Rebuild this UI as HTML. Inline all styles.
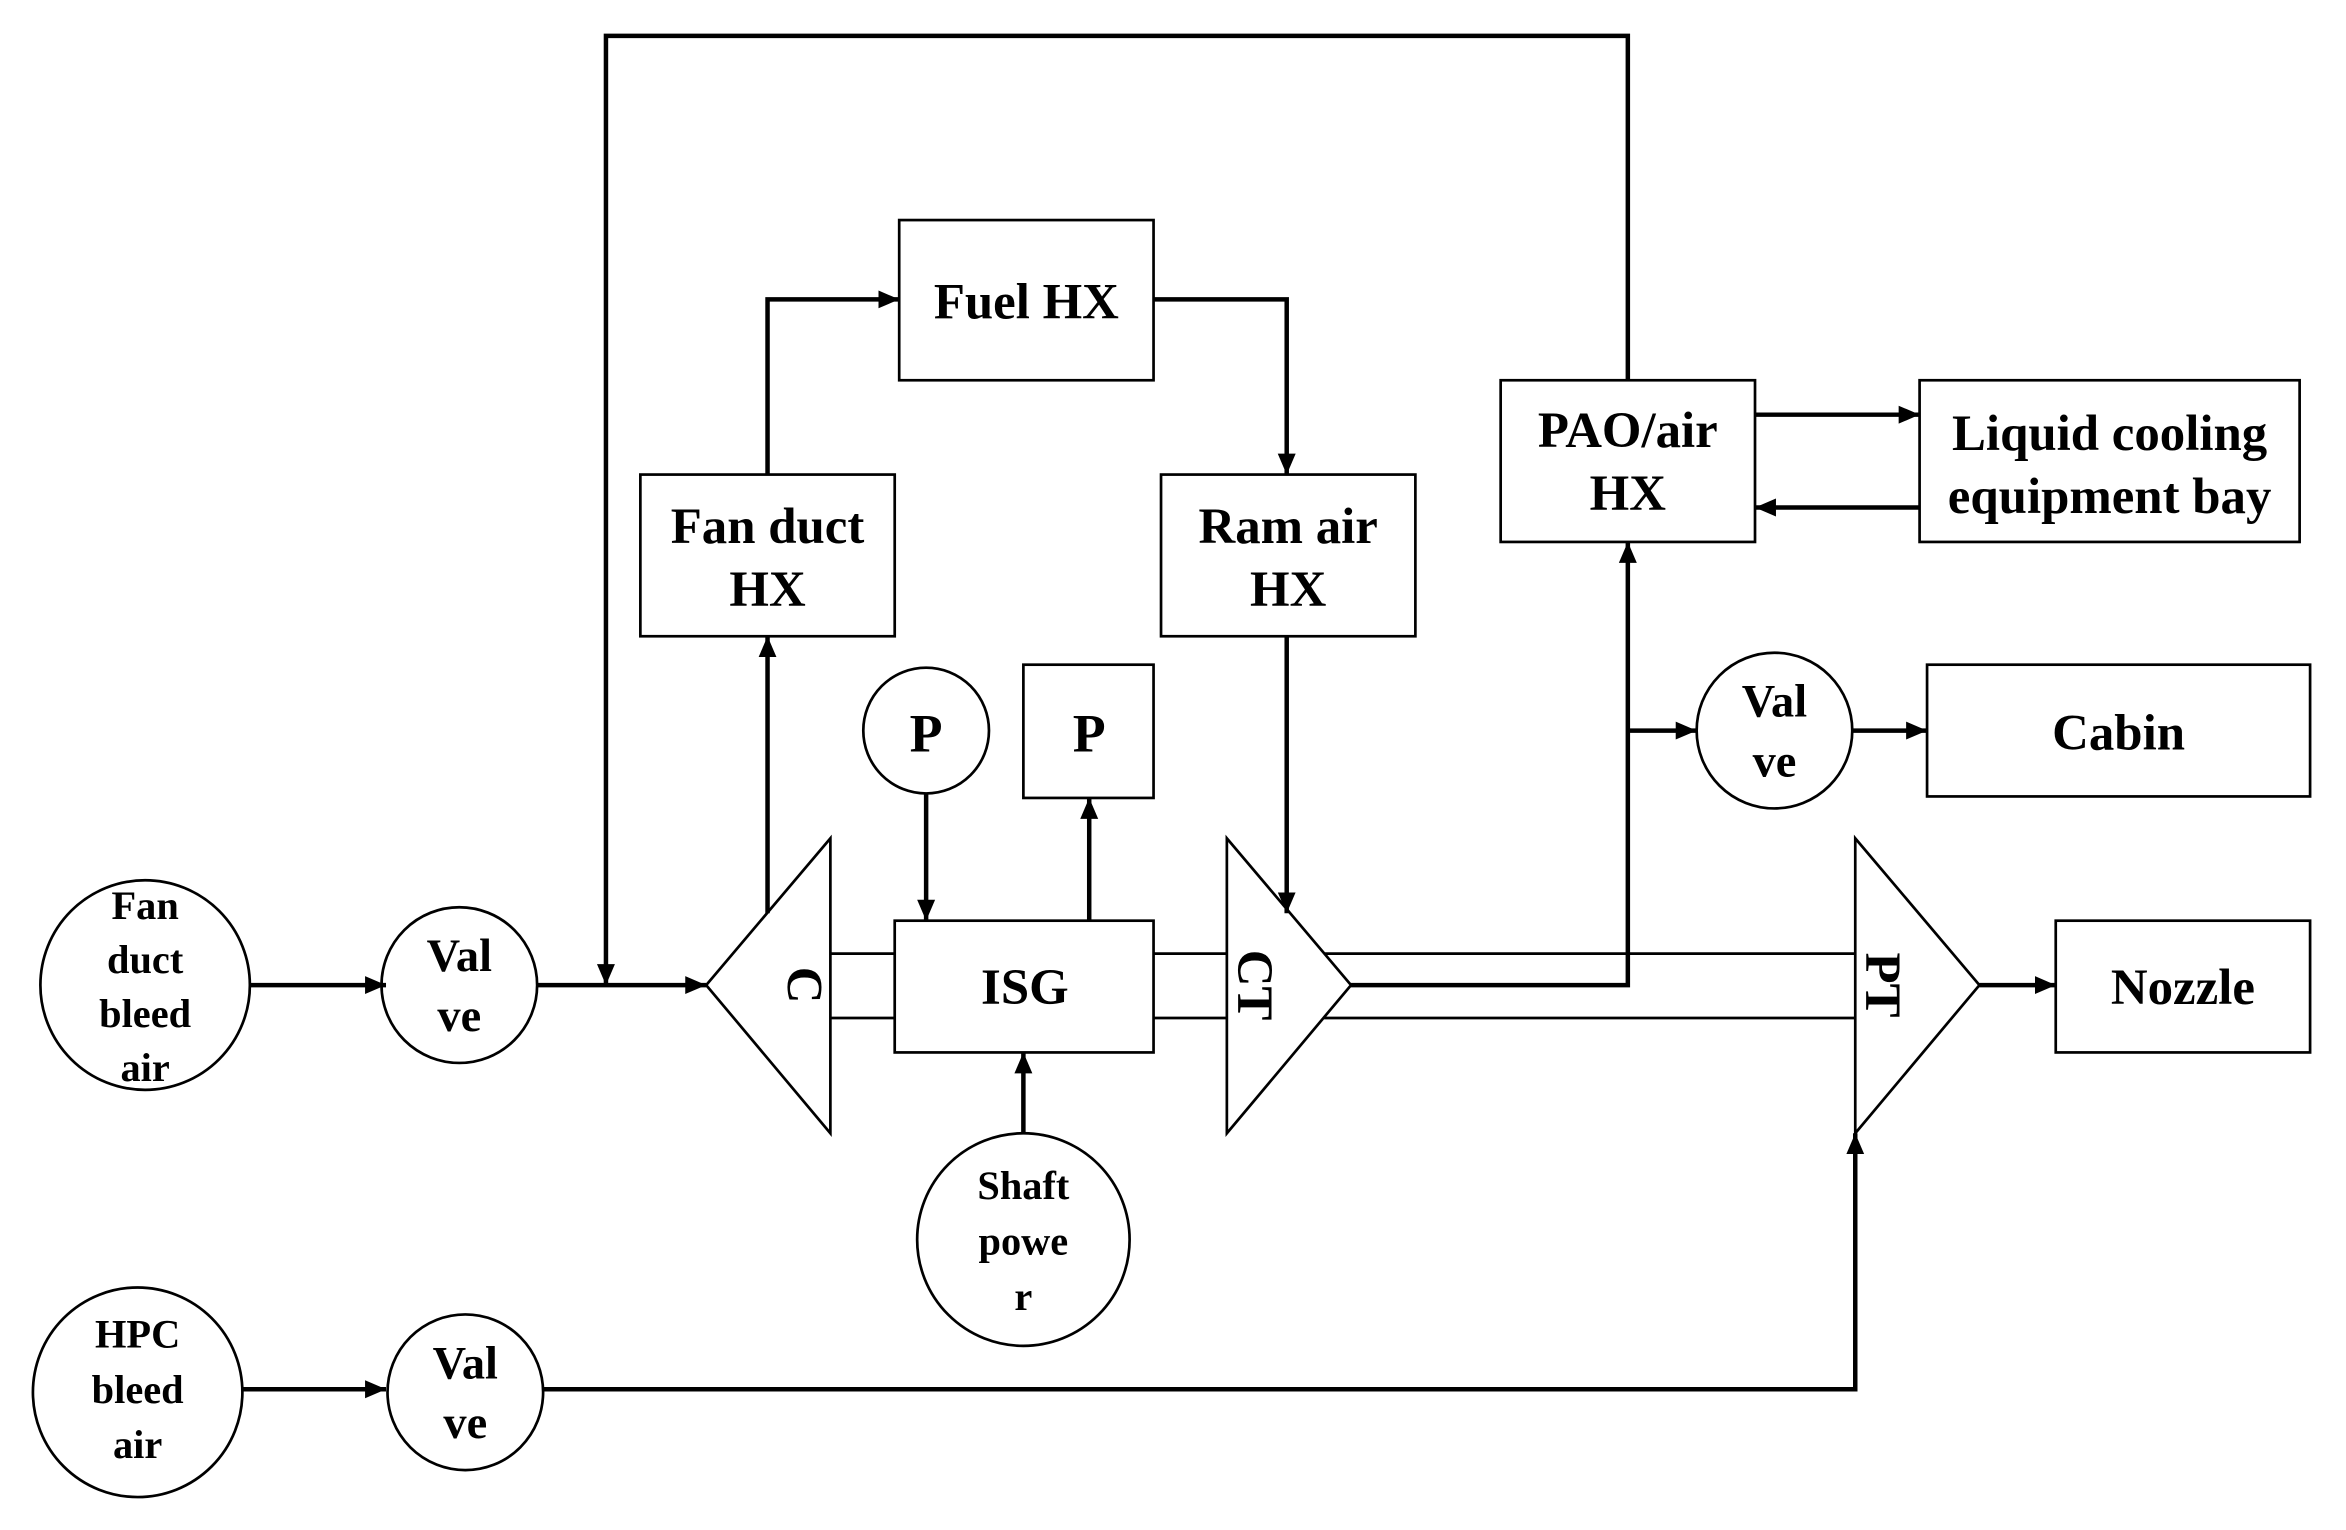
<!DOCTYPE html>
<html><head><meta charset="utf-8"><style>
html,body{margin:0;padding:0;background:#fff;}
svg{display:block;}
text{font-family:"Liberation Serif",serif;font-weight:bold;fill:#000;text-anchor:middle;dominant-baseline:central;}
</style></head><body>
<svg width="2346" height="1530" viewBox="0 0 1568 1022" preserveAspectRatio="none" xmlns="http://www.w3.org/2000/svg">
<defs>
<marker id="a" markerUnits="userSpaceOnUse" markerWidth="16" markerHeight="14" refX="14" refY="7" orient="auto">
<path d="M0,1 L14,7 L0,13 Z" fill="#000"/>
</marker>
</defs>
<g fill="none" stroke="#000" stroke-width="1.8">
<rect x="601" y="147" width="170" height="107"/>
<rect x="428" y="317" width="170" height="108"/>
<rect x="776" y="317" width="170" height="108"/>
<rect x="684" y="444" width="87" height="89"/>
<rect x="598" y="615" width="173" height="88"/>
<rect x="1003" y="254" width="170" height="108"/>
<rect x="1283" y="254" width="254" height="108"/>
<rect x="1288" y="444" width="256" height="88"/>
<rect x="1374" y="615" width="170" height="88"/>
<circle cx="619" cy="488" r="42"/>
<circle cx="1186" cy="488" r="52"/>
<circle cx="97" cy="658" r="70"/>
<circle cx="307" cy="658" r="52"/>
<circle cx="92" cy="930" r="70"/>
<circle cx="311" cy="930" r="52"/>
<circle cx="684" cy="828" r="71"/>
<polygon points="472,658 555,560 555,757"/>
<polygon points="820,560 820,757 903,658"/>
<polygon points="1240,560 1240,757 1323,658"/>
<line x1="555" y1="637" x2="598" y2="637"/>
<line x1="555" y1="680" x2="598" y2="680"/>
<line x1="771" y1="637" x2="820" y2="637"/>
<line x1="771" y1="680" x2="820" y2="680"/>
<line x1="885" y1="637" x2="1240" y2="637"/>
<line x1="885" y1="680" x2="1240" y2="680"/>
</g>
<g fill="none" stroke="#000" stroke-width="3">
<polyline points="1088,254 1088,24 405,24 405,658" marker-end="url(#a)"/>
<polyline points="513,317 513,200 601,200" marker-end="url(#a)"/>
<polyline points="771,200 860,200 860,317" marker-end="url(#a)"/>
<line x1="860" y1="425" x2="860" y2="610" marker-end="url(#a)"/>
<line x1="513" y1="610" x2="513" y2="425" marker-end="url(#a)"/>
<line x1="619" y1="530" x2="619" y2="615" marker-end="url(#a)"/>
<line x1="728" y1="615" x2="728" y2="533" marker-end="url(#a)"/>
<line x1="684" y1="757" x2="684" y2="703" marker-end="url(#a)"/>
<polyline points="903,658 1088,658 1088,362" marker-end="url(#a)"/>
<line x1="1088" y1="488" x2="1134" y2="488" marker-end="url(#a)"/>
<line x1="1238" y1="488" x2="1288" y2="488" marker-end="url(#a)"/>
<line x1="1173" y1="277" x2="1283" y2="277" marker-end="url(#a)"/>
<line x1="1283" y1="339" x2="1173" y2="339" marker-end="url(#a)"/>
<line x1="1323" y1="658" x2="1374" y2="658" marker-end="url(#a)"/>
<line x1="167" y1="658" x2="258" y2="658" marker-end="url(#a)"/>
<line x1="359" y1="658" x2="472" y2="658" marker-end="url(#a)"/>
<line x1="162" y1="928" x2="258" y2="928" marker-end="url(#a)"/>
<polyline points="363,928 1240,928 1240,757" marker-end="url(#a)"/>
</g>
<g font-size="34">
<text x="686" y="202">Fuel HX</text>
<text x="513" y="352">Fan duct</text><text x="513" y="394">HX</text>
<text x="861" y="352">Ram air</text><text x="861" y="394">HX</text>
<text x="1088" y="288">PAO/air</text><text x="1088" y="330">HX</text>
<text x="1410" y="290">Liquid cooling</text><text x="1410" y="332">equipment bay</text>
<text x="1416" y="490">Cabin</text>
<text x="1459" y="660">Nozzle</text>
<text x="685" y="660">ISG</text>
<text x="619" y="490" font-size="36">P</text>
<text x="728" y="490" font-size="36">P</text>
<text x="1186" y="469" font-size="31">Val</text><text x="1186" y="509" font-size="31">ve</text>
<text x="307" y="639" font-size="31">Val</text><text x="307" y="679" font-size="31">ve</text>
<text x="311" y="911" font-size="31">Val</text><text x="311" y="951" font-size="31">ve</text>
<text transform="translate(537,658) rotate(90)">C</text>
<text transform="translate(838,658) rotate(90)">CT</text>
<text transform="translate(1258,658) rotate(90)">PT</text>
</g>
<g font-size="27">
<text x="97" y="605">Fan</text><text x="97" y="641">duct</text><text x="97" y="677">bleed</text><text x="97" y="713">air</text>
<text x="92" y="891">HPC</text><text x="92" y="928">bleed</text><text x="92" y="965">air</text>
<text x="684" y="792">Shaft</text><text x="684" y="829">powe</text><text x="684" y="866">r</text>
</g>
</svg>
</body></html>
